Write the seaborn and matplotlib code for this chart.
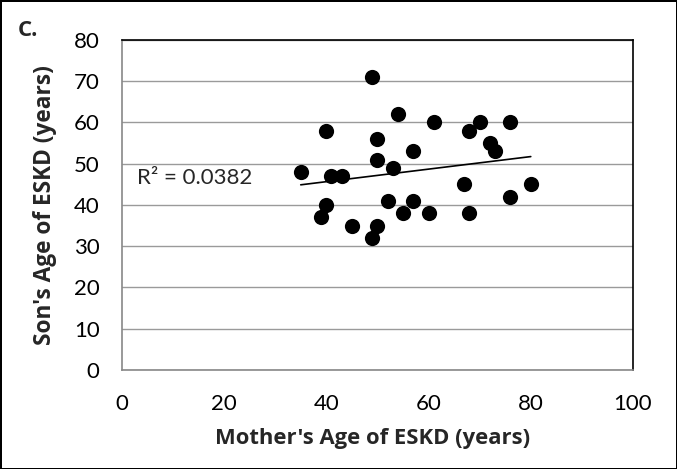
import matplotlib
matplotlib.use("Agg")
import matplotlib.pyplot as plt
import seaborn as sns
import numpy as np
import pandas as pd

mother_age = [35, 39, 40, 40, 41, 43, 45, 49, 49, 50, 50, 50, 52, 53, 54, 55, 57, 57, 60, 61, 67, 68, 68, 70, 72, 73, 76, 76, 80]
son_age = [48, 37, 40, 58, 47, 47, 35, 71, 32, 35, 51, 56, 41, 49, 62, 38, 53, 41, 38, 60, 45, 58, 38, 60, 55, 53, 60, 42, 45]
x_ticks = [0, 20, 40, 60, 80, 100]
y_ticks = [0, 10, 20, 30, 40, 50, 60, 70, 80]
r2_label = "R² = 0.0382"

df = pd.DataFrame({"mother": mother_age, "son": son_age})

sns.set_style("white")
plt.rcParams['font.family'] = ['Lato', 'DejaVu Sans']
bold_family = ['Open Sans', 'DejaVu Sans']

fig = plt.figure(figsize=(6.77, 4.69), dpi=100)
fig.patch.set_edgecolor("black")
fig.patch.set_linewidth(2)
ax = fig.add_axes([0.180, 0.211, 0.755, 0.704])

sns.regplot(data=df, x="mother", y="son", scatter=False, ci=None, truncate=True,
            color="black", line_kws={"linewidth": 1.2}, ax=ax)
sns.scatterplot(data=df, x="mother", y="son", color="black", s=120,
                edgecolor="black", linewidth=0, ax=ax, zorder=3)

ax.set_xlim(0, 100)
ax.set_ylim(0, 80)
ax.set_xticks(x_ticks)
ax.set_yticks(y_ticks)
ax.tick_params(axis="both", labelsize=16, colors="#888888", length=5, width=1,
               direction="out", labelcolor="black")
ax.tick_params(axis="x", pad=12)
ax.tick_params(axis="y", pad=11)
ax.grid(axis="y", color="#9a9a9a", linewidth=1)
ax.set_axisbelow(True)

for side in ["left", "bottom"]:
    ax.spines[side].set_color("#888888")
    ax.spines[side].set_linewidth(1.2)
for side in ["top", "right"]:
    ax.spines[side].set_visible(True)
    ax.spines[side].set_color("black")
    ax.spines[side].set_linewidth(1.2)

ax.set_xlabel("Mother's Age of ESKD (years)", fontsize=15.8, fontweight="bold",
              family=bold_family)
ax.set_ylabel("Son's Age of ESKD (years)", fontsize=16.3, fontweight="bold",
              family=bold_family)
ax.xaxis.set_label_coords(0.49, -0.175)
ax.yaxis.set_label_coords(-0.127, 0.5)

ax.text(3, 46.5, r2_label, fontsize=16, ha="left", va="center")
fig.text(0.026, 0.936, "C.", fontsize=16, fontweight="bold", family=bold_family,
         ha="left", va="center")

fig.savefig("out.png", dpi=100)
